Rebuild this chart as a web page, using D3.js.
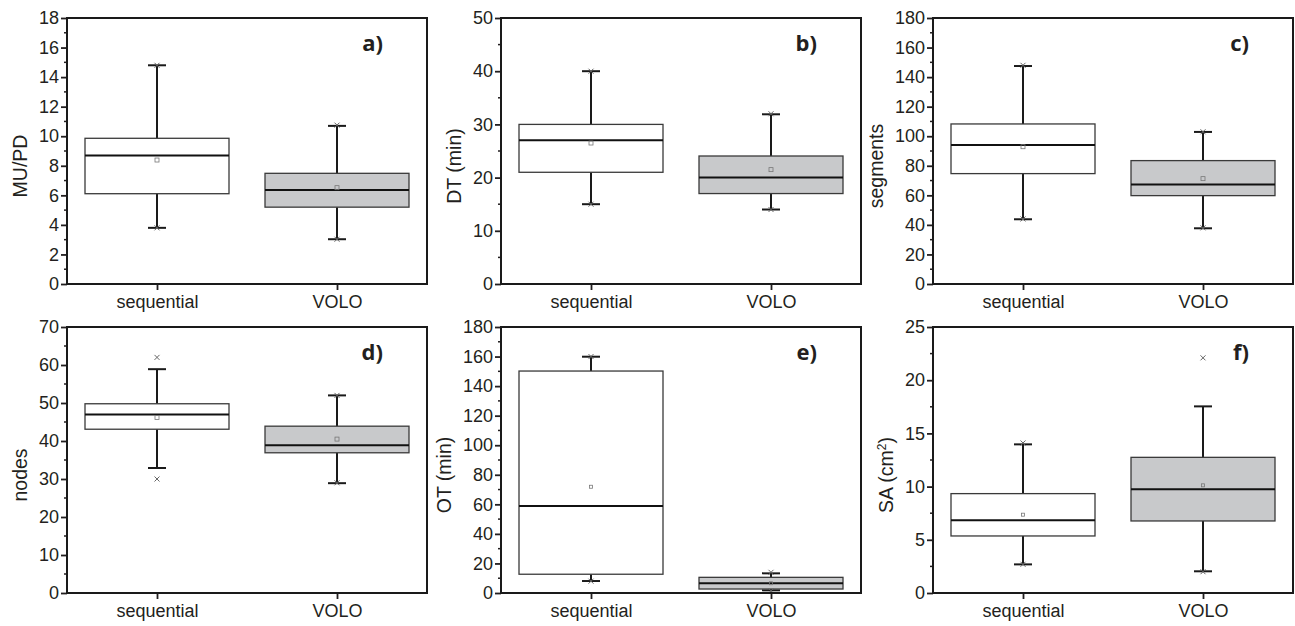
<!DOCTYPE html>
<html>
<head>
<meta charset="utf-8">
<script src="https://cdn.jsdelivr.net/npm/d3@7"></script>
<style>
  html, body { margin: 0; padding: 0; background: #fff; }
  svg { display: block; }
  text { font-family: "Liberation Sans", Arial, sans-serif; fill: #231f20; }
  .panel-id { font-family: "Open Sans", "Lato", sans-serif; font-weight: 700; }
</style>
</head>
<body>
<svg id="chart" width="1295" height="626"></svg>
<script>
// Groups compared in every panel
const categories = ["sequential", "VOLO"];

// Panel identifiers and y-axis titles
const panelIds = ["a)", "b)", "c)", "d)", "e)", "f)"];
const yTitles = ["MU/PD", "DT (min)", "segments", "nodes", "OT (min)", "SA (cm²)"];

// Y-axis ranges and major tick spacing per panel
const yMax = [18, 50, 180, 70, 180, 25];
const yStep = [2, 10, 20, 10, 20, 5];

// Box statistics per panel, each as [sequential, VOLO]
const whiskerLow  = [[3.8, 3.03], [15, 14], [43.8, 37.7], [32.9, 28.9], [8.1, 1.8], [2.69, 2.04]];
const q1          = [[6.11, 5.2], [21, 17], [74.7, 59.8], [43.1, 36.9], [12.7, 2.7], [5.36, 6.77]];
const median      = [[8.69, 6.36], [27, 20], [94.1, 67.4], [47, 38.9], [58.8, 6.6], [6.83, 9.74]];
const q3          = [[9.86, 7.49], [30, 24.06], [108.3, 83.5], [49.8, 43.9], [150.2, 10.6], [9.34, 12.75]];
const whiskerHigh = [[14.8, 10.7], [40, 31.9], [147.5, 102.9], [58.9, 52], [159.9, 13.3], [13.97, 17.54]];
const mean        = [[8.39, 6.52], [26.5, 21.5], [92.9, 71.3], [46.2, 40.5], [71.9, 6.6], [7.36, 10.12]];

// Extreme values (min / max), drawn as crosses
const minMark = [[3.8, 3.03], [15, 14], [44, 38], [30, 29], [8, 1.5], [2.7, 2.0]];
const maxMark = [[14.8, 10.75], [40, 32], [148, 103], [62, 52], [160, 14], [14.1, 22.1]];

// Layout
const colLeft = [67, 501, 933];
const rowTop = [18, 327];
const plotW = 360, plotH = 266;
const boxFill = ["#ffffff", "#c8c9cb"];

const svg = d3.select("#chart");

panelIds.forEach((pid, p) => {
  const x0 = colLeft[p % 3], y0 = rowTop[Math.floor(p / 3)];
  const g = svg.append("g").attr("transform", `translate(${x0},${y0})`);

  const x = d3.scalePoint().domain(categories).range([0, plotW]).padding(0.5);
  const y = d3.scaleLinear().domain([0, yMax[p]]).range([plotH, 0]);
  const boxW = plotW * 0.4;
  const capW = 18;

  // Minor ticks (half step), outward
  const minorVals = d3.range(yStep[p] / 2, yMax[p], yStep[p]);
  g.append("g").selectAll("line").data(minorVals).join("line")
    .attr("x1", -3).attr("x2", 0)
    .attr("y1", d => y(d)).attr("y2", d => y(d))
    .attr("stroke", "#231f20").attr("stroke-width", 1.5);

  // Y axis
  const yAxis = g.append("g")
    .call(d3.axisLeft(y).tickValues(d3.range(0, yMax[p] + yStep[p] / 2, yStep[p]))
      .tickSize(6).tickPadding(2).tickFormat(d3.format("d")));
  yAxis.select(".domain").remove();
  yAxis.selectAll(".tick line").attr("stroke", "#231f20").attr("stroke-width", 1.8);
  yAxis.selectAll(".tick text").attr("font-size", 18).attr("fill", "#231f20")
    .attr("font-family", "Liberation Sans, Arial, sans-serif");

  // X axis
  const xAxis = g.append("g").attr("transform", `translate(0,${plotH})`)
    .call(d3.axisBottom(x).tickSize(6).tickPadding(5));
  xAxis.select(".domain").remove();
  xAxis.selectAll(".tick line").attr("stroke", "#231f20").attr("stroke-width", 1.8);
  xAxis.selectAll(".tick text").attr("font-size", 18).attr("fill", "#231f20")
    .attr("font-family", "Liberation Sans, Arial, sans-serif")
    .attr("dy", null).attr("y", 24);

  // Y title, placed left of the tick labels
  const bb = yAxis.node().getBBox();
  const title = g.append("text")
    .attr("transform", `translate(${bb.x - 12},${plotH / 2 + 15}) rotate(-90)`)
    .attr("text-anchor", "middle")
    .attr("font-size", 19.5);
  const t = yTitles[p];
  if (t.includes("²")) {
    const parts = t.split("²");
    title.append("tspan").text(parts[0]);
    title.append("tspan").attr("baseline-shift", "super").attr("font-size", 12).text("2");
    title.append("tspan").text(parts[1]);
  } else {
    title.text(t);
  }

  // Boxes
  categories.forEach((c, i) => {
    const cx = x(c);
    // whisker stems
    g.append("line").attr("x1", cx).attr("x2", cx)
      .attr("y1", y(q3[p][i])).attr("y2", y(whiskerHigh[p][i]))
      .attr("stroke", "#1a1a1a").attr("stroke-width", 2);
    g.append("line").attr("x1", cx).attr("x2", cx)
      .attr("y1", y(q1[p][i])).attr("y2", y(whiskerLow[p][i]))
      .attr("stroke", "#1a1a1a").attr("stroke-width", 2);
    // caps
    [whiskerHigh[p][i], whiskerLow[p][i]].forEach(v => {
      g.append("line").attr("x1", cx - capW / 2).attr("x2", cx + capW / 2)
        .attr("y1", y(v)).attr("y2", y(v))
        .attr("stroke", "#1a1a1a").attr("stroke-width", 2);
    });
    // box
    g.append("rect")
      .attr("x", cx - boxW / 2).attr("width", boxW)
      .attr("y", y(q3[p][i])).attr("height", y(q1[p][i]) - y(q3[p][i]))
      .attr("fill", boxFill[i]).attr("stroke", "#3a3a3a").attr("stroke-width", 1.3);
    // median
    g.append("line").attr("x1", cx - boxW / 2).attr("x2", cx + boxW / 2)
      .attr("y1", y(median[p][i])).attr("y2", y(median[p][i]))
      .attr("stroke", "#111").attr("stroke-width", 2);
    // mean
    const ms = p >= 4 ? 3 : 4;
    g.append("rect")
      .attr("x", cx - ms / 2).attr("y", y(mean[p][i]) - ms / 2)
      .attr("width", ms).attr("height", ms)
      .attr("fill", "none").attr("stroke", "#777").attr("stroke-width", 0.8);
    // extremes
    [minMark[p][i], maxMark[p][i]].forEach(v => {
      const yy = y(v), s = 2.5;
      g.append("path")
        .attr("d", `M${cx - s},${yy - s}L${cx + s},${yy + s}M${cx - s},${yy + s}L${cx + s},${yy - s}`)
        .attr("stroke", "#666").attr("stroke-width", 1);
    });
  });

  // Frame
  g.append("rect").attr("x", 0).attr("y", 0).attr("width", plotW).attr("height", plotH)
    .attr("fill", "none").attr("stroke", "#1a1a1a").attr("stroke-width", 2);

  // Panel identifier
  g.append("text").attr("class", "panel-id")
    .attr("x", plotW - 44).attr("y", 33)
    .attr("text-anchor", "end").attr("font-size", 22)
    .text(pid);
});
</script>
</body>
</html>
